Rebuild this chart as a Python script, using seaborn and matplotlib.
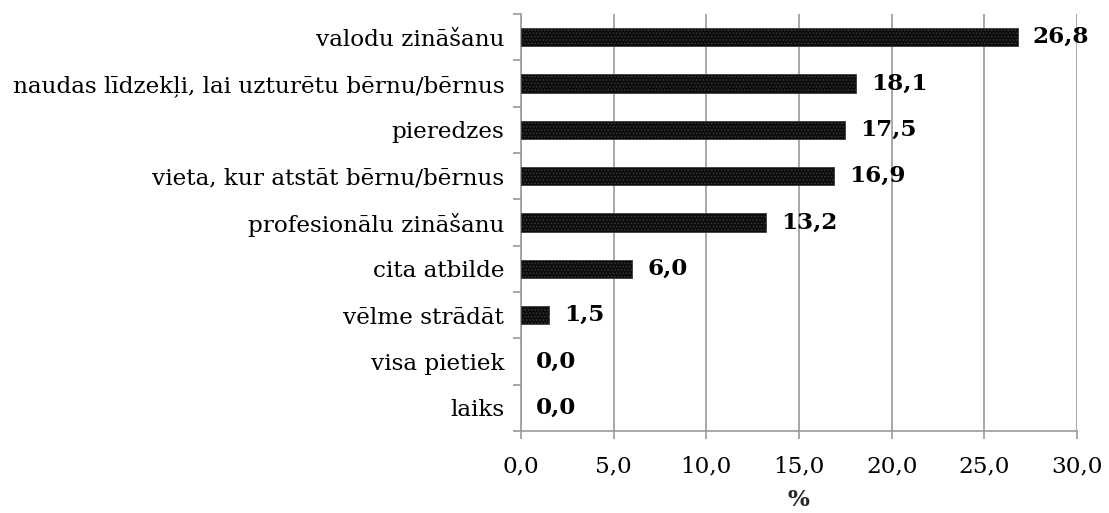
import matplotlib
matplotlib.use("Agg")
import matplotlib.pyplot as plt
import seaborn as sns
import pandas as pd
from matplotlib.ticker import FixedLocator

categories = [
    "valodu zināšanu",
    "naudas līdzekļi, lai uzturētu bērnu/bērnus",
    "pieredzes",
    "vieta, kur atstāt bērnu/bērnus",
    "profesionālu zināšanu",
    "cita atbilde",
    "vēlme strādāt",
    "visa pietiek",
    "laiks",
]
values = [26.8, 18.1, 17.5, 16.9, 13.2, 6.0, 1.5, 0.0, 0.0]
x_ticks = [0, 5, 10, 15, 20, 25, 30]
x_tick_labels = ["0,0", "5,0", "10,0", "15,0", "20,0", "25,0", "30,0"]

df = pd.DataFrame({"cat": categories, "val": values})

sns.set_style("white")
plt.rcParams["font.family"] = ["DejaVu Serif"]
plt.rcParams["hatch.linewidth"] = 0.6
plt.rcParams["text.color"] = "black"
plt.rcParams["xtick.color"] = "black"
plt.rcParams["ytick.color"] = "black"

FS = 16.7
GRID = "#9a9a9a"

fig = plt.figure(figsize=(11.09, 5.13), dpi=100)
ax = fig.add_axes([521 / 1109, 1 - 431 / 513, (1077 - 521) / 1109, (431 - 14) / 513])

sns.barplot(data=df, y="cat", x="val", orient="h", color="#111111",
            width=0.39, ax=ax, zorder=3, linewidth=0)
for p in ax.patches:
    if p.get_width() > 0:
        p.set_hatch(".....")
        p.set_edgecolor("#3c3c3c")
        p.set_linewidth(0.6)
        p.set_facecolor("#0d0d0d")
    else:
        p.set_visible(False)

ax.set_xlim(0, 30)
ax.set_ylim(len(categories) - 0.5, -0.5)
ax.set_xticks(x_ticks)
ax.set_xticklabels(x_tick_labels, fontsize=FS)
ax.xaxis.grid(True, color=GRID, linewidth=1.2, zorder=0)
ax.yaxis.grid(False)
ax.set_axisbelow(True)

ax.tick_params(axis="y", which="major", left=False, length=0, labelsize=FS, pad=12)
ax.yaxis.set_minor_locator(FixedLocator([i - 0.5 for i in range(len(categories) + 1)]))
ax.tick_params(axis="y", which="minor", left=True, length=5.8, width=1.2, color=GRID)
ax.tick_params(axis="x", which="major", bottom=True, length=5.8, width=1.2, color=GRID,
               labelsize=FS, pad=12, labelcolor="black")

for s in ["top", "right"]:
    ax.spines[s].set_visible(False)
for s in ["left", "bottom"]:
    ax.spines[s].set_color(GRID)
    ax.spines[s].set_linewidth(1.2)

for i, v in enumerate(values):
    ax.annotate(f"{v:.1f}".replace(".", ","), xy=(v, i), xytext=(15, 0),
                textcoords="offset pixels", va="center", ha="left",
                fontsize=FS, fontweight="bold", zorder=5)

ax.set_ylabel("")
ax.set_xlabel("%", fontsize=FS, fontweight="bold", labelpad=8)

fig.savefig("out.png", dpi=100)
